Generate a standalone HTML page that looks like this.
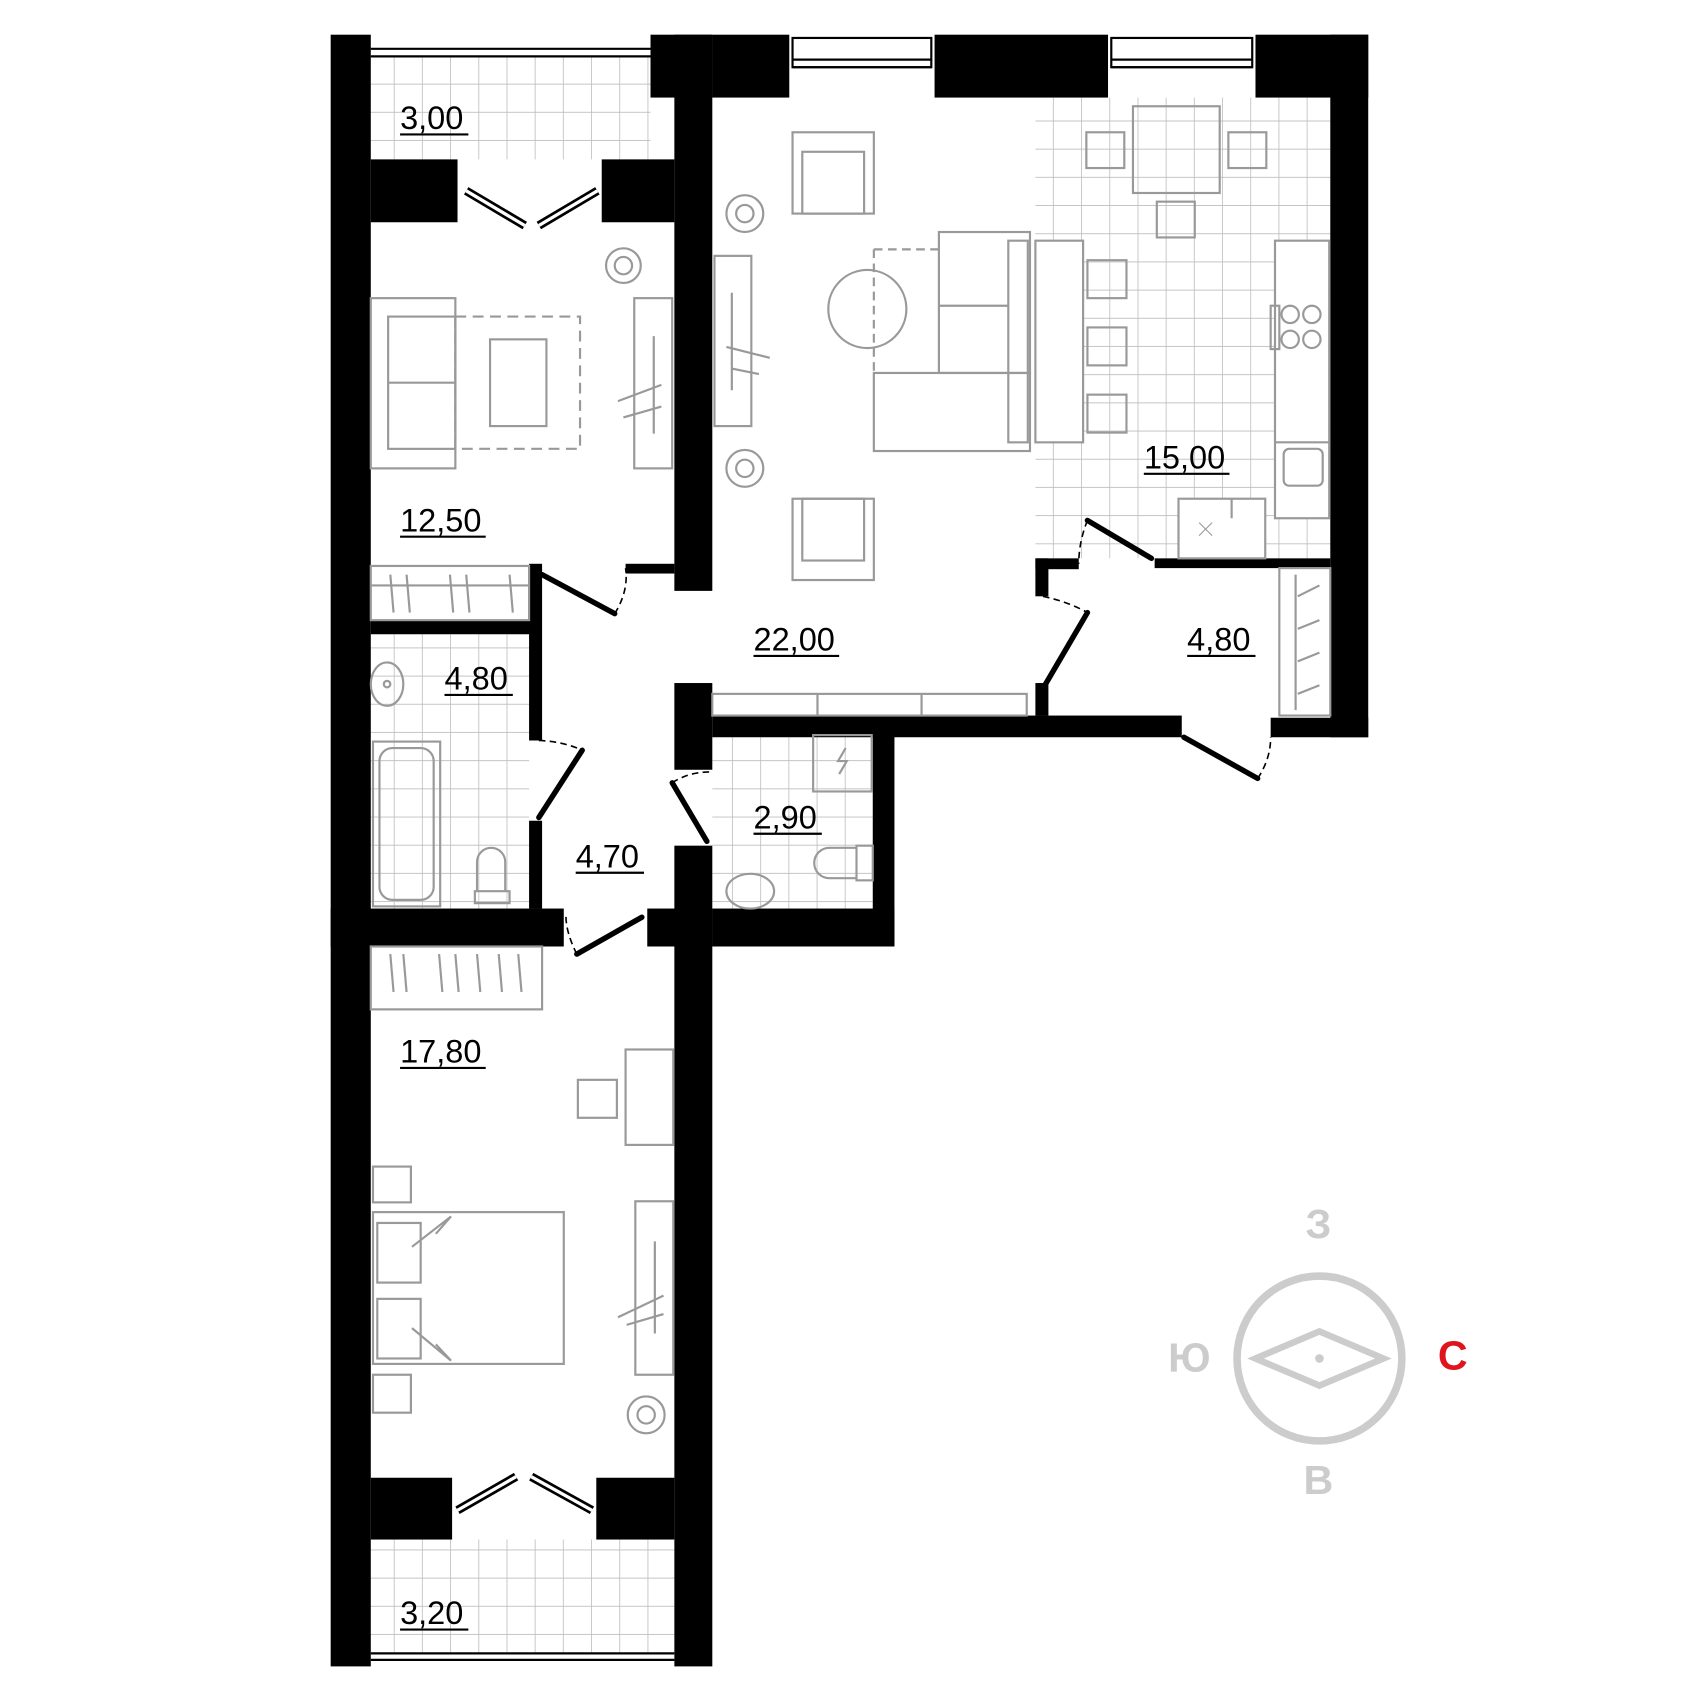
<!DOCTYPE html>
<html><head><meta charset="utf-8"><style>html,body{margin:0;padding:0;background:#fff}svg{display:block}</style></head><body>
<svg width="1700" height="1700" viewBox="0 0 1568 1568" xmlns="http://www.w3.org/2000/svg">
<defs>
<pattern id="g" width="26" height="26" patternUnits="userSpaceOnUse"><path d="M26 0V26M0 26H26" stroke="#bdbdbd" stroke-width="1.5" fill="none"/></pattern>
<pattern id="g2" width="26" height="26" patternUnits="userSpaceOnUse" x="10" y="8"><path d="M26 0V26M0 26H26" stroke="#bdbdbd" stroke-width="1.5" fill="none"/></pattern>
</defs>
<rect x="342" y="52" width="258" height="95" fill="url(#g)"/>
<rect x="955" y="90" width="272" height="425" fill="url(#g2)"/>
<rect x="342" y="585" width="146" height="253" fill="url(#g)"/>
<rect x="657" y="680" width="148" height="158" fill="url(#g)"/>
<rect x="342" y="1420" width="280" height="105" fill="url(#g)"/>
<g fill="#fff"><rect x="1176" y="222" width="50" height="256"/><rect x="1087" y="460" width="80" height="55"/><rect x="955" y="222" width="44" height="186"/></g>
<g stroke="#000" stroke-width="2" fill="none"><path d="M342 45H600M342 52H600M342 1525H622M342 1531H622"/></g>
<g fill="#000">
<rect x="305" y="32" width="37" height="1505"/>
<rect x="600" y="32" width="57" height="58"/>
<rect x="622" y="32" width="35" height="513"/>
<rect x="657" y="32" width="71" height="58"/><rect x="862" y="32" width="160" height="58"/><rect x="1158" y="32" width="104" height="58"/>
<rect x="1227" y="32" width="35" height="648"/>
<rect x="342" y="147" width="80" height="58"/><rect x="555" y="147" width="67" height="58"/>
<rect x="577" y="520" width="45" height="9"/>
<rect x="342" y="572" width="155" height="13"/>
<rect x="488" y="520" width="12" height="163"/><rect x="488" y="757" width="12" height="81"/>
<rect x="305" y="838" width="215" height="35"/><rect x="597" y="838" width="60" height="35"/>
<rect x="622" y="630" width="35" height="80"/><rect x="622" y="780" width="35" height="757"/>
<rect x="657" y="660" width="433" height="20"/>
<rect x="805" y="660" width="20" height="213"/><rect x="657" y="838" width="168" height="35"/>
<rect x="955" y="515" width="12" height="35"/><rect x="955" y="515" width="40" height="10"/><rect x="955" y="630" width="12" height="30"/>
<rect x="1065" y="515" width="162" height="9"/>
<rect x="1172" y="662" width="90" height="18"/>
<rect x="342" y="1363" width="75" height="57"/><rect x="550" y="1363" width="72" height="57"/>
</g>
<g stroke="#000" stroke-width="2" fill="none"><rect x="731" y="35" width="128" height="27"/><path d="M731 55H859M731 62H859"/><rect x="1025" y="35" width="130" height="27"/><path d="M1025 55H1155M1025 62H1155"/></g>
<g stroke="#000" stroke-width="5" fill="none" stroke-linecap="round">
<path d="M500 530L567 566"/><path d="M537 692L497 754"/><path d="M620 722L652 776"/><path d="M532 880L592 846"/><path d="M1003 480L1062 515"/><path d="M1003 565L962 635"/><path d="M1092 680L1160 718"/>
</g>
<g stroke="#000" stroke-width="8" fill="none">
<path d="M430 176L484 208M551 176L497 208M422 1393L476 1362M490 1362L546 1393"/>
</g>
<g stroke="#fff" stroke-width="3" fill="none">
<path d="M430 176L484 208M551 176L497 208M422 1393L476 1362M490 1362L546 1393"/>
</g>
<g stroke="#000" stroke-width="1.5" fill="none" stroke-dasharray="6 4">
<path d="M567 566Q580 545 577 524"/><path d="M497 683Q520 684 537 692"/><path d="M620 722Q635 712 655 712"/><path d="M532 880Q522 860 522 845"/><path d="M1003 480Q995 500 995 520"/><path d="M962 550Q985 555 1003 565"/><path d="M1160 718Q1172 700 1172 680"/>
</g>
<g stroke="#999" stroke-width="2" fill="none">
<rect x="342" y="275" width="78" height="157"/><rect x="358" y="292" width="62" height="122"/><path d="M358 353H420"/>
<rect x="420" y="292" width="115" height="122" stroke-dasharray="10 6"/><rect x="452" y="313" width="52" height="80"/>
<rect x="585" y="275" width="35" height="157"/><path d="M603 310V400M570 370L610 355M575 385L610 375"/>
<circle cx="575" cy="245" r="16"/><circle cx="575" cy="245" r="8"/>
<rect x="342" y="522" width="146" height="50"/><path d="M342 540H488M360 530l3 35M375 530l3 35M415 530l3 35M430 530l3 35M470 530l3 35"/>
<rect x="731" y="122" width="75" height="75"/><rect x="740" y="140" width="57" height="57"/>
<rect x="731" y="460" width="75" height="75"/><rect x="740" y="460" width="57" height="57"/>
<circle cx="687" cy="197" r="17"/><circle cx="687" cy="197" r="8"/><circle cx="687" cy="432" r="17"/><circle cx="687" cy="432" r="8"/>
<rect x="659" y="236" width="34" height="157"/><path d="M675 270V360M670 320L710 330M675 340L700 345"/>
<circle cx="800" cy="285" r="36"/><path d="M806 230H866M806 230V345" stroke-dasharray="8 5"/>
<rect x="866" y="214" width="84" height="130"/><path d="M866 282H930"/><rect x="930" y="222" width="18" height="186"/>
<rect x="806" y="344" width="144" height="72"/>
<rect x="1045" y="98" width="80" height="80"/><rect x="1002" y="122" width="35" height="33"/><rect x="1133" y="122" width="35" height="33"/><rect x="1067" y="186" width="35" height="33"/>
<rect x="955" y="222" width="44" height="186"/><rect x="1003" y="240" width="36" height="35"/><rect x="1003" y="302" width="36" height="35"/><rect x="1003" y="364" width="36" height="35"/>
<rect x="1176" y="222" width="50" height="256"/><path d="M1176 408H1226"/><rect x="1172" y="282" width="8" height="40"/>
<circle cx="1190" cy="290" r="8"/><circle cx="1210" cy="290" r="8"/><circle cx="1190" cy="313" r="8"/><circle cx="1210" cy="313" r="8"/>
<rect x="1184" y="414" width="36" height="34" rx="5"/><rect x="1087" y="460" width="80" height="55"/><path d="M1136 460V478"/><path d="M1106 482l12 12M1118 482l-12 12" stroke-width="1"/>
<rect x="1180" y="524" width="47" height="136"/><path d="M1195 530V655M1197 550l20 -10M1197 580l20 -8M1197 610l20 -8M1197 640l20 -8"/>
<rect x="657" y="640" width="290" height="20"/><path d="M754 640V660M850 640V660"/>
<ellipse cx="357" cy="631" rx="15" ry="20"/><circle cx="357" cy="631" r="3"/>
<rect x="344" y="684" width="62" height="152"/><rect x="350" y="690" width="50" height="140" rx="12"/>
<path d="M440 822V795A13 13 0 0 1 466 795V822M438 822H470V833H438Z"/>
<rect x="750" y="678" width="54" height="52"/><path d="M780 690l-7 12h8l-7 12"/>
<rect x="790" y="780" width="15" height="32"/><path d="M790 782H765A14 14 0 0 0 765 810H790"/>
<ellipse cx="692" cy="822" rx="22" ry="16"/>
<rect x="342" y="873" width="158" height="58"/><path d="M360 880l3 35M372 880l3 35M405 880l3 35M420 880l3 35M440 880l3 35M460 880l3 35M478 880l3 35"/>
<rect x="577" y="968" width="44" height="88"/><rect x="533" y="996" width="36" height="35"/>
<rect x="344" y="1076" width="35" height="33"/><rect x="344" y="1268" width="35" height="35"/>
<rect x="344" y="1118" width="176" height="140"/><rect x="348" y="1128" width="40" height="55"/><rect x="348" y="1198" width="40" height="55"/>
<path d="M380 1150L416 1122L402 1138M380 1225L416 1255L402 1240"/>
<rect x="586" y="1108" width="35" height="160"/><path d="M604 1145V1230M570 1215L612 1195M578 1222L612 1212"/>
<circle cx="596" cy="1305" r="17"/><circle cx="596" cy="1305" r="8"/>
</g>
<g font-family="Liberation Sans, sans-serif" font-size="30" fill="#000">
<text x="369" y="119">3,00</text><path d="M369 124H432" stroke="#000" stroke-width="2"/>
<text x="369" y="490">12,50</text><path d="M369 495H448" stroke="#000" stroke-width="2"/>
<text x="410" y="636">4,80</text><path d="M410 641H473" stroke="#000" stroke-width="2"/>
<text x="695" y="600">22,00</text><path d="M695 605H774" stroke="#000" stroke-width="2"/>
<text x="1055" y="432">15,00</text><path d="M1055 437H1134" stroke="#000" stroke-width="2"/>
<text x="1095" y="600">4,80</text><path d="M1095 605H1158" stroke="#000" stroke-width="2"/>
<text x="695" y="764">2,90</text><path d="M695 769H758" stroke="#000" stroke-width="2"/>
<text x="531" y="800">4,70</text><path d="M531 805H594" stroke="#000" stroke-width="2"/>
<text x="369" y="980">17,80</text><path d="M369 985H448" stroke="#000" stroke-width="2"/>
<text x="369" y="1498">3,20</text><path d="M369 1503H432" stroke="#000" stroke-width="2"/>
</g>
<circle cx="1217" cy="1253" r="76" stroke="#ccc" stroke-width="7" fill="none"/>
<path d="M1158 1253L1217 1228L1276 1253L1217 1278Z" stroke="#ccc" stroke-width="6" fill="none"/>
<circle cx="1217" cy="1253" r="4" fill="#ccc"/>
<g font-family="Liberation Sans, sans-serif" font-size="38" font-weight="bold" fill="#ccc" text-anchor="middle">
<text x="1216" y="1142">З</text><text x="1216" y="1378">В</text><text x="1097" y="1265">Ю</text><text x="1340" y="1263" fill="#e0141e">С</text>
</g>
</svg>
</body></html>
